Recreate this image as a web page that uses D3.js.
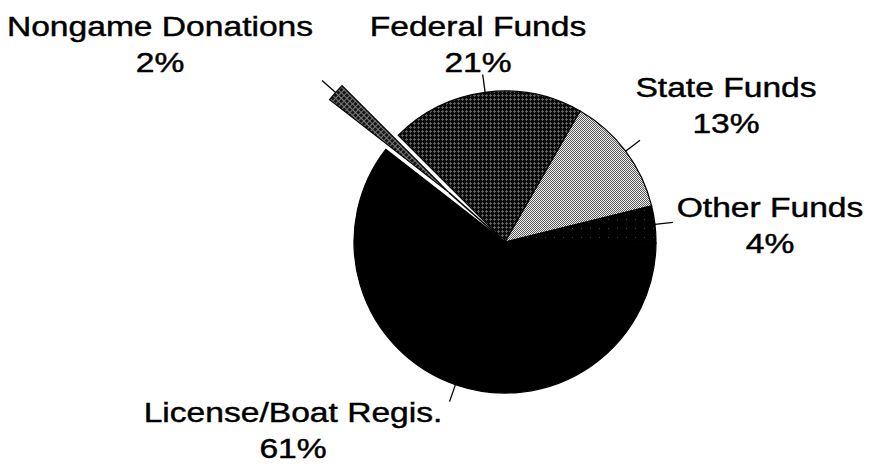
<!DOCTYPE html>
<html>
<head>
<meta charset="utf-8">
<script src="https://cdn.jsdelivr.net/npm/d3@7"></script>
<style>
  html, body { margin: 0; padding: 0; background: #fff; }
  svg { display: block; }
  .lbl { font-family: "Liberation Sans", Arial, Helvetica, sans-serif; font-size: 28px; fill: #000; stroke: #000; stroke-width: 0.45px; }
</style>
</head>
<body>
<svg id="chart" width="874" height="476"></svg>
<script>
// Funding sources, in clockwise drawing order
const categories = ["Federal Funds", "State Funds", "Other Funds", "License/Boat Regis.", "Nongame Donations"];
const shares = [21, 13, 4, 61, 2];
const shareLabels = ["21%", "13%", "4%", "61%", "2%"];
const explodedCategory = "Nongame Donations";

// Layout and styling
const W = 874, H = 476;
const cx = 505, cy = 242, R = 151;
const explodeBy = 75;
const leaderLen = 18;
const labelPos = {
  "Federal Funds":       { x: 478, y: 36 },
  "State Funds":         { x: 726, y: 97 },
  "Other Funds":         { x: 770, y: 217 },
  "License/Boat Regis.": { x: 293, y: 422 },
  "Nongame Donations":   { x: 160, y: 36 }
};
const lineGap = 36;
const fills = {
  "Federal Funds": "url(#pat-federal)",
  "State Funds": "url(#pat-state)",
  "Other Funds": "url(#pat-other)",
  "License/Boat Regis.": "#000",
  "Nongame Donations": "url(#pat-nongame)"
};

const svg = d3.select("#chart");
const defs = svg.append("defs");

// dark grid of small crosses
const pf = defs.append("pattern").attr("id", "pat-federal")
  .attr("patternUnits", "userSpaceOnUse").attr("width", 4).attr("height", 4);
pf.append("rect").attr("width", 4).attr("height", 4).attr("fill", "#0a0a0a");
pf.append("rect").attr("x", 0).attr("y", 1).attr("width", 3).attr("height", 1).attr("fill", "#5e5e5e");
pf.append("rect").attr("x", 1).attr("y", 0).attr("width", 1).attr("height", 3).attr("fill", "#5e5e5e");

// light dither
const ps = defs.append("pattern").attr("id", "pat-state")
  .attr("patternUnits", "userSpaceOnUse").attr("width", 2).attr("height", 2);
ps.append("rect").attr("width", 2).attr("height", 2).attr("fill", "#f0f0f0");
ps.append("rect").attr("x", 1).attr("y", 0).attr("width", 1).attr("height", 1).attr("fill", "#5a5a5a");
ps.append("rect").attr("x", 0).attr("y", 1).attr("width", 1).attr("height", 1).attr("fill", "#5a5a5a");

// black with sparse specks
const po = defs.append("pattern").attr("id", "pat-other")
  .attr("patternUnits", "userSpaceOnUse").attr("width", 9).attr("height", 9);
po.append("rect").attr("width", 9).attr("height", 9).attr("fill", "#000");
po.append("rect").attr("x", 4).attr("y", 4).attr("width", 1).attr("height", 1).attr("fill", "#444");

// diagonal crosshatch
const pn = defs.append("pattern").attr("id", "pat-nongame")
  .attr("patternUnits", "userSpaceOnUse").attr("width", 4).attr("height", 4)
  .attr("patternTransform", "rotate(45)");
pn.append("rect").attr("width", 4).attr("height", 4).attr("fill", "#151515");
pn.append("rect").attr("x", 0).attr("y", 1).attr("width", 4).attr("height", 1).attr("fill", "#7a7a7a");
pn.append("rect").attr("x", 1).attr("y", 0).attr("width", 1).attr("height", 4).attr("fill", "#7a7a7a");

const data = categories.map((c, i) => ({ category: c, value: shares[i], label: shareLabels[i] }));

const pie = d3.pie().sort(null).value(d => d.value)
  .startAngle(-Math.PI / 4).endAngle(-Math.PI / 4 + 2 * Math.PI);
const arcs = pie(data);
const arc = d3.arc().innerRadius(0).outerRadius(R);

const mid = a => (a.startAngle + a.endAngle) / 2;
const polar = (ang, r) => [Math.sin(ang) * r, -Math.cos(ang) * r];

const g = svg.append("g").attr("transform", `translate(${cx},${cy})`);

// connector from the pie centre out to the pulled-out wedge
arcs.filter(a => a.data.category === explodedCategory).forEach(a => {
  const [ex, ey] = polar(mid(a), explodeBy);
  g.append("line").attr("x1", 0).attr("y1", 0).attr("x2", ex).attr("y2", ey)
    .attr("stroke", "#000").attr("stroke-width", 1.6);
});

g.selectAll("path.slice").data(arcs).join("path")
  .attr("class", "slice")
  .attr("transform", a => {
    if (a.data.category !== explodedCategory) return null;
    const [ex, ey] = polar(mid(a), explodeBy);
    return `translate(${ex},${ey})`;
  })
  .attr("d", arc)
  .attr("fill", a => fills[a.data.category])
  .attr("stroke", "#000")
  .attr("stroke-width", 1.2)
  .attr("stroke-linejoin", "miter");

// leader ticks
g.selectAll("line.leader").data(arcs).join("line")
  .attr("class", "leader")
  .each(function (a) {
    const m = mid(a);
    const off = a.data.category === explodedCategory ? explodeBy : 0;
    const [x1, y1] = polar(m, off + R);
    const [x2, y2] = polar(m, off + R + leaderLen);
    d3.select(this).attr("x1", x1).attr("y1", y1).attr("x2", x2).attr("y2", y2);
  })
  .attr("stroke", "#000").attr("stroke-width", 1.3);

// labels: name and percentage
const lg = svg.append("g");
data.forEach(d => {
  const p = labelPos[d.category];
  const t = lg.append("g").attr("transform", `translate(${p.x},${p.y}) scale(1.2,1)`);
  t.append("text").attr("class", "lbl").attr("text-anchor", "middle").attr("x", 0).attr("y", 0).text(d.category);
  t.append("text").attr("class", "lbl").attr("text-anchor", "middle").attr("x", 0).attr("y", lineGap).text(d.label);
});
</script>
</body>
</html>
